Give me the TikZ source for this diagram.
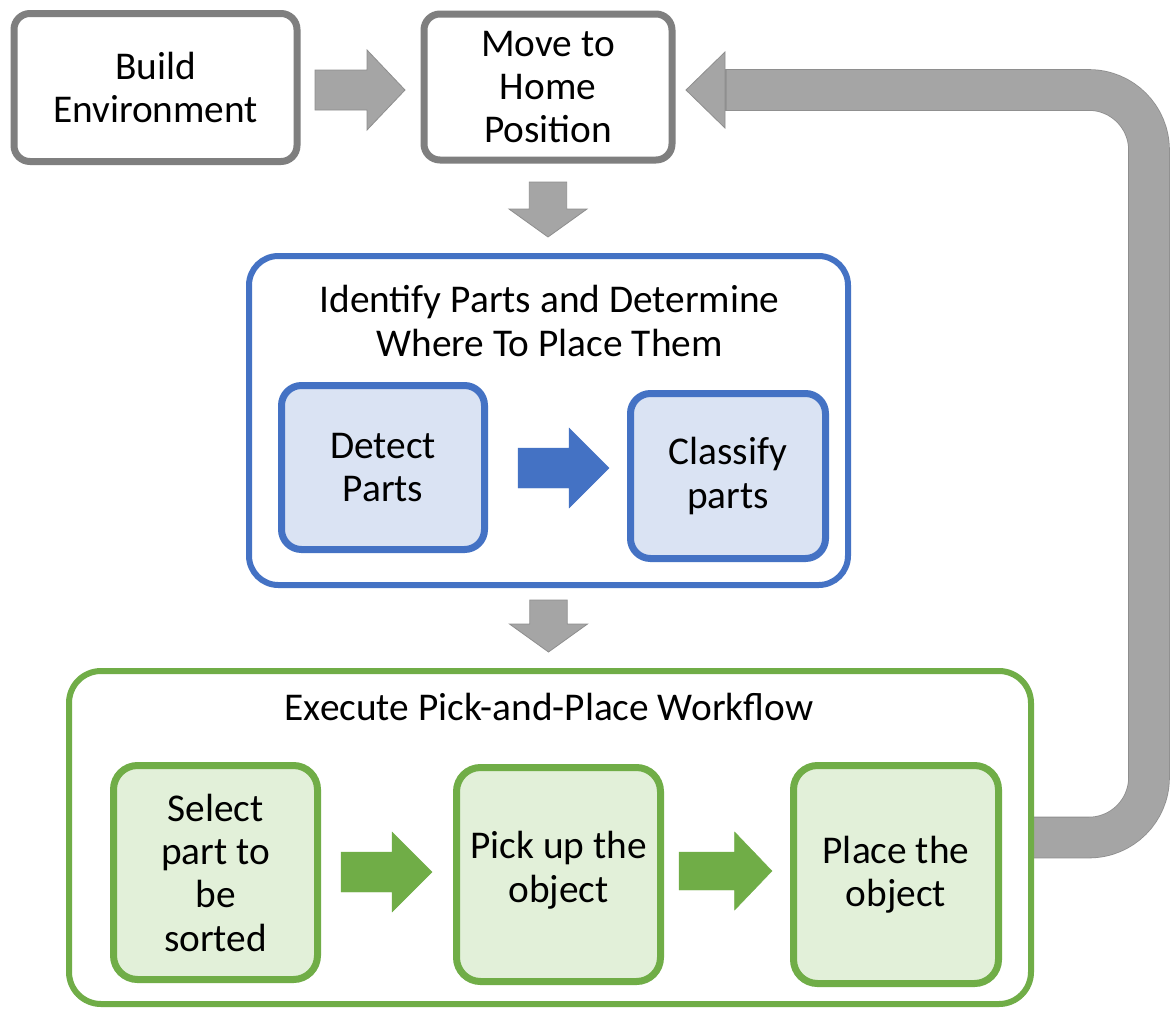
\documentclass[tikz,border=0pt]{standalone}
\usepackage{fontspec}
\setmainfont{Carlito}
\usetikzlibrary{calc,backgrounds}
\definecolor{boxgray}{HTML}{7F7F7F}
\definecolor{arrowgray}{HTML}{A5A5A5}
\definecolor{arrowedge}{HTML}{8E8E8E}
\definecolor{bblue}{HTML}{4472C4}
\definecolor{lblue}{HTML}{DAE3F3}
\definecolor{bgreen}{HTML}{70AD47}
\definecolor{lgreen}{HTML}{E2F0D9}
\newcommand\harrow[6][]{\draw[#1] let \p1=#2, \p2=#3 in (\x1,\y1+#4) -- (\x2-#6,\y1+#4) -- (\x2-#6,\y1+#5) -- (\x2,\y1) -- (\x2-#6,\y1-#5) -- (\x2-#6,\y1-#4) -- (\x1,\y1-#4) -- cycle;}
\newcommand\varrow[6][]{\draw[#1] let \p1=#2, \p2=#3 in (\x1-#4,\y1) -- (\x1-#4,\y2+#6) -- (\x1-#5,\y2+#6) -- (\x1,\y2) -- (\x1+#5,\y2+#6) -- (\x1+#4,\y2+#6) -- (\x1+#4,\y1) -- cycle;}
\begin{document}
\begin{tikzpicture}[x=0.75pt,y=-0.75pt,
  txt/.style={font=\fontsize{29.5}{32.5}\selectfont, align=center},
  basebox/.style={txt, draw, outer sep=0pt, inner sep=0pt},
  graybox/.style={basebox, draw=boxgray, fill=white, line width=5.25pt, rounded corners=12pt},
  blueouter/.style={basebox, draw=bblue, fill=white, line width=4.5pt, rounded corners=22pt},
  blueinner/.style={basebox, draw=bblue, fill=lblue, line width=5.25pt, rounded corners=15pt},
  greenouter/.style={basebox, draw=bgreen, fill=white, line width=4.5pt, rounded corners=24pt},
  greeninner/.style={basebox, draw=bgreen, fill=lgreen, line width=5.25pt, rounded corners=18pt},
  grayarrow/.style={fill=arrowgray, draw=arrowedge, line width=0.6pt},
  bluearrow/.style={fill=bblue, draw=bblue, line width=0.3pt},
  greenarrow/.style={fill=bgreen, draw=bgreen, line width=0.3pt}]
\begin{scope}[on background layer]
\fill[white] (0,0) rectangle (1172,1011);
\end{scope}
\useasboundingbox (0,0) rectangle (1172,1011);

% top row
\node[graybox, minimum width=212.25pt, minimum height=111pt] (build) at (155.5,87.5) {Build\\Environment};
\node[graybox, minimum width=186pt, minimum height=109.5pt] (move) at (548,87) {Move to\\Home\\Position};

% identify group
\node[blueouter, minimum width=449.25pt, minimum height=246.75pt] (blue) at (548.5,420.5) {};
\node[txt] (bluetitle) at (549.5,321) {Identify Parts and Determine\\Where To Place Them};
\node[blueinner, minimum width=152.25pt, minimum height=123pt] (detect) at (383,467.5) {Detect\\Parts};
\node[blueinner, minimum width=146.25pt, minimum height=123.75pt] (classify) at (728,476) {Classify\\parts};

% execute group
\node[greenouter, minimum width=721.5pt, minimum height=249.75pt] (green) at (550,837.5) {};
\node[txt, anchor=base] (greentitle) at (549,720) {Execute Pick-and-Place Workflow};
\node[greeninner, minimum width=153pt, minimum height=160.5pt] (select) at (215.5,872.5) {Select\\part to\\be\\sorted};
\node[greeninner, minimum width=153pt, minimum height=160.5pt] (pick) at (558.5,874.5) {Pick up the\\object\\[-21pt]};
\node[greeninner, minimum width=153.75pt, minimum height=163.5pt] (place) at (896,874.5) {Place the\\object};

% block arrows
\harrow[grayarrow]{($(build.east)+(18,2.5)$)}{($(move.west)+(-19,0)$)}{15pt}{30pt}{28.5pt}
\varrow[grayarrow]{($(move.south)+(0,22)$)}{($(blue.north)+(0,-19)$)}{14pt}{29.25pt}{21pt}
\varrow[grayarrow]{($(blue.south)+(0,15)$)}{($(green.north)+(0,-19)$)}{14pt}{29.25pt}{21pt}
\harrow[bluearrow]{($(detect.east)+(33.5,0.5)$)}{($(classify.west)+(-21.5,0)$)}{15pt}{30pt}{30pt}
\harrow[greenarrow]{($(select.east)+(23.5,-0.5)$)}{($(pick.west)+(-24.5,0)$)}{15pt}{30pt}{30pt}
\harrow[greenarrow]{($(pick.east)+(18.5,-3.5)$)}{($(place.west)+(-21.5,0)$)}{14.25pt}{29.25pt}{28pt}

% loop back arrow
\coordinate (loopx) at (1149,0);
\coordinate (tip) at ($(move.east)+(14,3)$);
\coordinate (hb) at ($(tip)+(39,0)$);
\begin{scope}[on background layer]
\draw[line width=31.2pt, arrowedge, rounded corners=45pt] (green.east) -- (green.east -| loopx) -- (loopx |- hb) -- (hb);
\draw[grayarrow] ($(hb)+(0,-38)$) -- (tip) -- ($(hb)+(0,38)$) -- cycle;
\draw[line width=30pt, arrowgray, rounded corners=45pt] (green.east) -- (green.east -| loopx) -- (loopx |- hb) -- ($(hb)+(1.5,0)$);
\end{scope}
\end{tikzpicture}
\end{document}
